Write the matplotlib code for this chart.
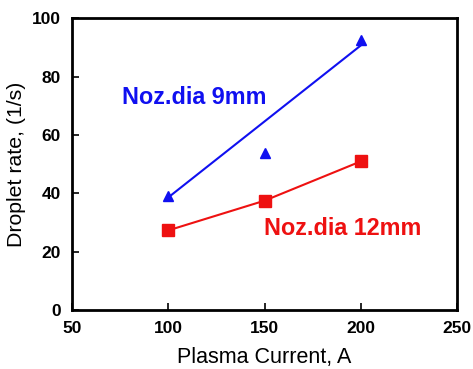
import matplotlib

matplotlib.use("Agg")
import matplotlib.pyplot as plt

plt.rcParams["font.family"] = ["Liberation Sans", "DejaVu Sans"]

# plasma current (A) and droplet rate (1/s)
current = [100, 150, 200]
rate_9mm = [39.0, 53.8, 92.5]
rate_12mm = [27.3, 37.5, 51.0]

# hand-drawn trend line for the 9 mm nozzle (end points)
trend_9mm_x = [100, 200]
trend_9mm_y = [38.6, 90.8]

blue = "#1010f0"
red = "#ee1111"

fig = plt.figure(figsize=(4.73, 3.69), dpi=100)
ax = fig.add_axes([0.152, 0.16, 0.815, 0.79])

ax.plot(trend_9mm_x, trend_9mm_y, color=blue, linewidth=1.5)
ax.plot(current, rate_9mm, linestyle="none", marker="^", markersize=7.5,
        color=blue)
ax.plot(current, rate_12mm, color=red, linewidth=1.5, marker="s",
        markersize=9)

ax.text(76, 73, "Noz.dia 9mm", color=blue, fontsize=16.8, fontweight="bold",
        va="center", ha="left")
ax.text(149.5, 28, "Noz.dia 12mm", color=red, fontsize=16.8, fontweight="bold",
        va="center", ha="left")

ax.set_xlim(50, 250)
ax.set_ylim(0, 100)
ax.set_xticks([50, 100, 150, 200, 250])
ax.set_yticks([0, 20, 40, 60, 80, 100])
ax.tick_params(direction="in", length=5, width=1.2, labelsize=12.5,
               top=False, right=False, pad=8)
for lab in ax.get_xticklabels() + ax.get_yticklabels():
    lab.set_fontweight("bold")
for s in ax.spines.values():
    s.set_linewidth(2)

ax.set_xlabel("Plasma Current, A", fontsize=15.5, labelpad=8)
ax.set_ylabel("Droplet rate, (1/s)", fontsize=15.3, labelpad=4)

fig.savefig("out.png", dpi=100)
plt.close(fig)
